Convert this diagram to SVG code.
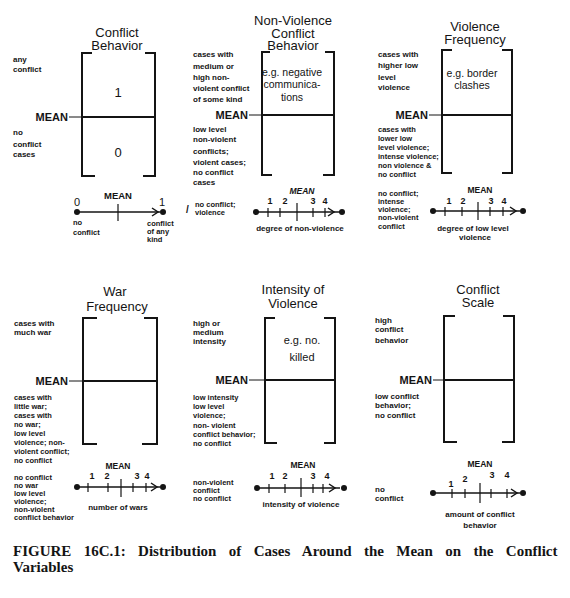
<svg xmlns="http://www.w3.org/2000/svg" width="570" height="598" viewBox="0 0 570 598">
<style>
text{font-family:"Liberation Sans",Arial,sans-serif;fill:#141414}
.t{font-size:13px;text-anchor:middle}
.in{font-size:10.5px;text-anchor:middle}
.big{font-size:13px;text-anchor:middle}
.s{font-size:8px;font-weight:bold}
.x{font-size:7.5px;font-weight:bold}
.sc{font-size:8px;font-weight:bold;text-anchor:middle}
.m{font-size:11px;font-weight:bold;text-anchor:end}
.n{font-size:9px;font-weight:bold;text-anchor:middle}
.mn{font-size:8.5px;font-weight:bold;text-anchor:middle}
.br{fill:none;stroke:#141414;stroke-width:2}
.ml{stroke:#141414;stroke-width:2}
.ld{stroke:#141414;stroke-width:1}
.ax{fill:none;stroke:#141414;stroke-width:1.5}
.tk{stroke:#141414;stroke-width:1.2}
.dot{fill:#141414}
.cap{font-family:"Liberation Serif","Times New Roman",serif;font-size:15px;font-weight:bold;word-spacing:8.6px}
</style>
<rect width="570" height="598" fill="#fff"/>

<!-- Panel 1 -->
<g id="conflict-behavior">
<text class="t" x="117" y="37">Conflict</text>
<text class="t" x="117" y="50">Behavior</text>
<path class="br" d="M92,53H82V176H95M145,53H155V176H143"/>
<line class="ml" x1="82" y1="117" x2="155" y2="117"/>
<text class="m" x="68" y="121">MEAN</text>
<text class="big" x="118" y="97">1</text>
<text class="big" x="118" y="157">0</text>
<text class="s" x="13" y="62">any</text>
<text class="s" x="13" y="72">conflict</text>
<text class="s" x="13" y="135">no</text>
<text class="s" x="13" y="147">conflict</text>
<text class="s" x="13" y="157">cases</text>
<line class="ax" x1="77" y1="212" x2="160" y2="212"/>
<path class="ax" d="M152,208L158,212L152,216"/>
<line class="tk" x1="118" y1="204" x2="118" y2="221"/>
<circle class="dot" cx="77" cy="212" r="3"/>
<circle class="dot" cx="163" cy="212" r="3"/>
<text class="big" x="77" y="206" style="font-size:11px">0</text>
<text class="big" x="162" y="206" style="font-size:11px">1</text>
<text class="n" x="118" y="199" style="font-size:9.5px">MEAN</text>
<text class="x" x="73" y="225">no</text>
<text class="x" x="73" y="235">conflict</text>
<text class="x" x="147" y="226">conflict</text>
<text class="x" x="147" y="234">of any</text>
<text class="x" x="147" y="242">kind</text>
</g>

<!-- Panel 2 -->
<g id="non-violence-conflict-behavior">
<text class="t" x="293" y="25">Non-Violence</text>
<text class="t" x="293" y="38">Conflict</text>
<text class="t" x="293" y="50">Behavior</text>
<path class="br" d="M270,52H262V175H272M325,52H334V175H323"/>
<line class="ml" x1="262" y1="115" x2="334" y2="115"/>
<text class="m" x="248" y="119">MEAN</text>
<text class="in" x="292" y="76">e.g. negative</text>
<text class="in" x="292" y="88">communica-</text>
<text class="in" x="292" y="101">tions</text>
<text class="s" x="193" y="57">cases with</text>
<text class="s" x="193" y="69">medium or</text>
<text class="s" x="193" y="80">high non-</text>
<text class="s" x="193" y="91">violent conflict</text>
<text class="s" x="193" y="102">of some kind</text>
<text class="s" x="193" y="132">low level</text>
<text class="s" x="193" y="142">non-violent</text>
<text class="s" x="193" y="154">conflicts;</text>
<text class="s" x="193" y="165">violent cases;</text>
<text class="s" x="193" y="175">no conflict</text>
<text class="s" x="193" y="185">cases</text>
<text class="s" x="186" y="213" style="font-size:10px">/</text>
<text class="x" x="195" y="207">no conflict;</text>
<text class="x" x="195" y="215">violence</text>
<line class="ax" x1="256" y1="212" x2="340" y2="212"/>
<path class="ax" d="M328,208L334,212L328,216"/>
<path class="tk" d="M268,208V217M280,208V217M313,208V217M325,208V217"/>
<line class="tk" x1="297" y1="203" x2="297" y2="221"/>
<circle class="dot" cx="256" cy="212" r="3"/>
<circle class="dot" cx="342" cy="212" r="3"/>
<text class="n" x="270" y="204">1</text>
<text class="n" x="285" y="204">2</text>
<text class="n" x="313" y="204">3</text>
<text class="n" x="325" y="204">4</text>
<text class="mn" x="302" y="194" style="font-style:italic">MEAN</text>
<text class="sc" x="300" y="231">degree of non-violence</text>
</g>

<!-- Panel 3 -->
<g id="violence-frequency">
<text class="t" x="475" y="31">Violence</text>
<text class="t" x="475" y="44">Frequency</text>
<path class="br" d="M452,50H442V173H452M502,50H512V173H502"/>
<line class="ml" x1="442" y1="115" x2="512" y2="115"/>
<text class="m" x="428" y="119">MEAN</text>
<text class="in" x="472" y="77">e.g. border</text>
<text class="in" x="472" y="89">clashes</text>
<text class="s" x="378" y="57">cases with</text>
<text class="s" x="378" y="68">higher low</text>
<text class="s" x="378" y="80">level</text>
<text class="s" x="378" y="90">violence</text>
<text class="x" x="378" y="132">cases with</text>
<text class="x" x="378" y="141">lower low</text>
<text class="x" x="378" y="150">level violence;</text>
<text class="x" x="378" y="159">intense violence;</text>
<text class="x" x="378" y="168">non violence &amp;</text>
<text class="x" x="378" y="177">no conflict</text>
<text class="x" x="378" y="196">no conflict;</text>
<text class="x" x="378" y="204">intense</text>
<text class="x" x="378" y="212">violence;</text>
<text class="x" x="378" y="220">non-violent</text>
<text class="x" x="378" y="229">conflict</text>
<line class="ax" x1="433" y1="211" x2="520" y2="211"/>
<path class="ax" d="M510,207L516,211L510,215"/>
<path class="tk" d="M445,207V216M462,207V216M490,207V216M503,207V216"/>
<line class="tk" x1="478" y1="202" x2="478" y2="220"/>
<circle class="dot" cx="433" cy="211" r="3"/>
<circle class="dot" cx="523" cy="211" r="3"/>
<text class="n" x="449" y="204">1</text>
<text class="n" x="463" y="204">2</text>
<text class="n" x="491" y="204">3</text>
<text class="n" x="504" y="204">4</text>
<text class="mn" x="480" y="193">MEAN</text>
<text class="sc" x="473" y="231">degree of low level</text>
<text class="sc" x="475" y="240">violence</text>
</g>

<!-- Panel 4 -->
<g id="war-frequency">
<text class="t" x="115" y="296">War</text>
<text class="t" x="117" y="311">Frequency</text>
<path class="br" d="M97,318H83V444H97M144,318H157V444H142"/>
<line class="ml" x1="83" y1="381" x2="157" y2="381"/>
<text class="m" x="68" y="385">MEAN</text>
<text class="s" x="14" y="326">cases with</text>
<text class="s" x="14" y="335">much war</text>
<text class="x" x="14" y="400">cases with</text>
<text class="x" x="14" y="409">little war;</text>
<text class="x" x="14" y="418">cases with</text>
<text class="x" x="14" y="427">no war;</text>
<text class="x" x="14" y="436">low level</text>
<text class="x" x="14" y="445">violence; non-</text>
<text class="x" x="14" y="454">violent conflict;</text>
<text class="x" x="14" y="463">no conflict</text>
<text class="x" x="14" y="480">no conflict</text>
<text class="x" x="14" y="488">no war</text>
<text class="x" x="14" y="496">low level</text>
<text class="x" x="14" y="504">violence;</text>
<text class="x" x="14" y="512">non-violent</text>
<text class="x" x="14" y="520">conflict behavior</text>
<line class="ax" x1="77" y1="487" x2="160" y2="487"/>
<path class="ax" d="M151,483L157,487L151,491"/>
<path class="tk" d="M88,483V492M108,483V492M133,483V492M146,483V492"/>
<line class="tk" x1="121" y1="479" x2="121" y2="497"/>
<circle class="dot" cx="77" cy="487" r="3"/>
<circle class="dot" cx="163" cy="487" r="3"/>
<text class="n" x="92" y="479">1</text>
<text class="n" x="107" y="479">2</text>
<text class="n" x="137" y="479">3</text>
<text class="n" x="147" y="479">4</text>
<text class="mn" x="118" y="469">MEAN</text>
<text class="sc" x="118" y="510">number of wars</text>
</g>

<!-- Panel 5 -->
<g id="intensity-of-violence">
<text class="t" x="293" y="294">Intensity of</text>
<text class="t" x="293" y="308">Violence</text>
<path class="br" d="M275,318H265V443H277M324,318H335V443H324"/>
<line class="ml" x1="265" y1="380" x2="335" y2="380"/>
<text class="m" x="248" y="384">MEAN</text>
<text class="in" x="302" y="344" style="font-size:11px">e.g. no.</text>
<text class="in" x="302" y="361" style="font-size:11px">killed</text>
<text class="s" x="193" y="326">high or</text>
<text class="s" x="193" y="335">medium</text>
<text class="s" x="193" y="344">intensity</text>
<text class="x" x="193" y="400">low intensity</text>
<text class="x" x="193" y="409">low level</text>
<text class="x" x="193" y="418">violence;</text>
<text class="x" x="193" y="428">non- violent</text>
<text class="x" x="193" y="437">conflict behavior;</text>
<text class="x" x="193" y="446">no conflict</text>
<text class="x" x="193" y="485">non-violent</text>
<text class="x" x="193" y="493">conflict</text>
<text class="x" x="193" y="501">no conflict</text>
<line class="ax" x1="257" y1="488" x2="340" y2="488"/>
<path class="ax" d="M329,484L335,488L329,492"/>
<path class="tk" d="M269,484V493M285,484V493M313,484V493M323,484V493"/>
<line class="tk" x1="301" y1="478" x2="301" y2="497"/>
<circle class="dot" cx="257" cy="488" r="3"/>
<circle class="dot" cx="344" cy="488" r="3"/>
<text class="n" x="272" y="479">1</text>
<text class="n" x="285" y="479">2</text>
<text class="n" x="313" y="479">3</text>
<text class="n" x="327" y="479">4</text>
<text class="mn" x="303" y="468">MEAN</text>
<text class="sc" x="301" y="507">intensity of violence</text>
</g>

<!-- Panel 6 -->
<g id="conflict-scale">
<text class="t" x="478" y="294">Conflict</text>
<text class="t" x="478" y="307">Scale</text>
<path class="br" d="M455,316H444V442H457M503,316H514V442H502"/>
<line class="ml" x1="444" y1="380" x2="514" y2="380"/>
<text class="m" x="432" y="384">MEAN</text>
<text class="s" x="375" y="323">high</text>
<text class="s" x="375" y="332">conflict</text>
<text class="s" x="375" y="343">behavior</text>
<text class="s" x="375" y="399">low conflict</text>
<text class="s" x="375" y="408">behavior;</text>
<text class="s" x="375" y="418">no conflict</text>
<text class="s" x="375" y="492">no</text>
<text class="s" x="375" y="501">conflict</text>
<line class="ax" x1="433" y1="493" x2="520" y2="493"/>
<path class="ax" d="M511,489L517,493L511,497"/>
<path class="tk" d="M452,489V498M465,489V498M491,489V498M507,489V498"/>
<line class="tk" x1="480" y1="483" x2="480" y2="503"/>
<circle class="dot" cx="433" cy="493" r="3"/>
<circle class="dot" cx="523" cy="493" r="3"/>
<text class="n" x="451" y="487">1</text>
<text class="n" x="465" y="482">2</text>
<text class="n" x="492" y="478">3</text>
<text class="n" x="507" y="478">4</text>
<text class="mn" x="480" y="467">MEAN</text>
<text class="sc" x="480" y="517">amount of conflict</text>
<text class="sc" x="480" y="528">behavior</text>
</g>

<!-- leader lines from MEAN labels to the mean lines -->
<g id="connectors">
<line class="ld" x1="69" y1="117" x2="82" y2="117"/>
<line class="ld" x1="249" y1="115" x2="262" y2="115"/>
<line class="ld" x1="429" y1="115" x2="442" y2="115"/>
<line class="ld" x1="69" y1="381" x2="83" y2="381"/>
<line class="ld" x1="249" y1="380" x2="265" y2="380"/>
<line class="ld" x1="433" y1="380" x2="444" y2="380"/>
</g>

<g id="caption">
<text class="cap" x="13" y="556">FIGURE 16C.1: Distribution of Cases Around the Mean on the Conflict</text>
<text class="cap" x="13" y="572">Variables</text>
</g>
</svg>
